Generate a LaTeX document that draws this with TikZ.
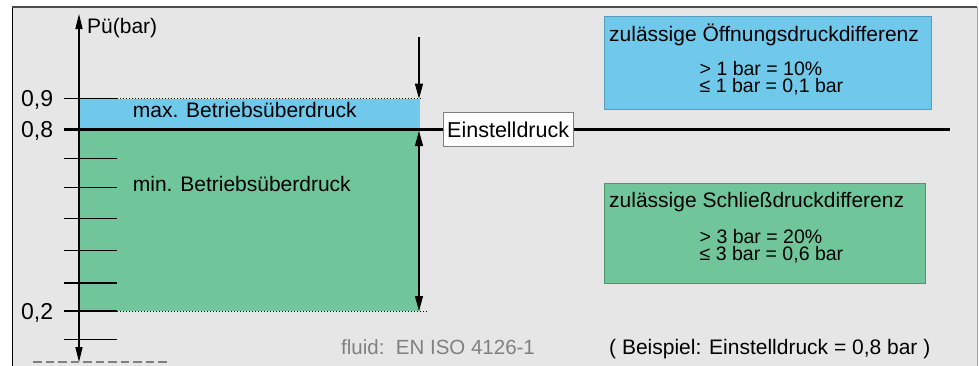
\documentclass[tikz,border=0pt]{standalone}
\usepackage{fontspec}
\setmainfont{Liberation Sans}
\usetikzlibrary{arrows.meta}
\definecolor{bg}{HTML}{E6E6E6}
\definecolor{blueband}{HTML}{70C8EA}
\definecolor{greenband}{HTML}{70C69A}
\definecolor{blueedge}{HTML}{5A9CBE}
\definecolor{greenedge}{HTML}{4F9670}
\definecolor{fluidgray}{HTML}{808080}
\tikzset{
  tick/.style={line width=1.5pt},
  dotline/.style={line width=1pt, dotted},
  lbl/.style={font=\fontsize{21}{24}\selectfont, inner sep=0pt, anchor=base west},
  sublbl/.style={font=\fontsize{19.5}{17.5}\selectfont, inner sep=0pt, anchor=base west},
  axlbl/.style={font=\fontsize{23}{25}\selectfont, inner sep=0pt, anchor=base east},
  infobox/.style={draw=#1, line width=0.9pt, anchor=north west, inner sep=0pt},
  ahead/.tip={Triangle[length=15pt,width=8pt]},
  axhead/.tip={Triangle[length=15pt,width=7pt]},
}
\begin{document}
\begin{tikzpicture}[x=1pt,y=-1pt]
\useasboundingbox (0,0) rectangle (979,365);
\fill[white] (0,0) rectangle (979,365);
\fill[bg] (12,7) rectangle (977,370);
\draw[black, line width=0.8pt] (12,370) -- (12,7);
\draw[gray!70, line width=0.8pt] (977,7) -- (977,370);
\draw[black!70, line width=2pt] (11.6,7) -- (977.4,7);
% bands
\fill[blueband] (79,98.7) rectangle (420,129);
\fill[greenband] (79,129) rectangle (420,311);
% info boxes
\node[infobox=blueedge, fill=blueband, minimum width=327pt, minimum height=93pt] (obox) at (604,16) {};
\node[infobox=greenedge, fill=greenband, minimum width=321pt, minimum height=100pt] (sbox) at (604,182.7) {};
\node[lbl] (otitle) at (609,41) {zulässige Öffnungsdruckdifferenz};
\node[sublbl] (otext1) at (699.5,75) {> 1 bar = 10\%};
\node[sublbl] (otext2) at (699.5,92.7) {≤ 1 bar = 0,1 bar};
\node[lbl] (stitle) at (609,207.3) {zulässige Schließdruckdifferenz};
\node[sublbl] (stext1) at (699.5,243) {> 3 bar = 20\%};
\node[sublbl] (stext2) at (699.5,260.7) {≤ 3 bar = 0,6 bar};
% dotted lines
\coordinate (d9a) at (117,98.7);
\coordinate (d9b) at (423,98.7);
\coordinate (d2a) at (117,311);
\coordinate (d2b) at (427,311);
\draw[dotline] (d9a) -- (d9b);
\draw[dotline] (d2a) -- (d2b);
% ticks
\foreach \v/\y in {9/98.7,7/158.5,6/187.5,5/218.5,4/250.5,3/283,2/311,1/339.5}{
  \coordinate (ta\v) at (64,\y);
  \coordinate (tb\v) at (117,\y);
  \draw[tick] (ta\v) -- (tb\v);
}
% set pressure line
\coordinate (s1) at (64,129);
\coordinate (s2) at (950,129);
\draw[line width=3pt] (s1) -- (s2);
\node[draw=gray, fill=white, line width=0.8pt, minimum width=130pt, minimum height=34pt, inner sep=0pt] (einst) at (508,129) {};
\node[font=\fontsize{21.5}{24}\selectfont, inner sep=0pt, anchor=base west] (einsttxt) at (447,137.3) {Einstelldruck};
% axis
\coordinate (axtop) at (79,14);
\coordinate (axbot) at (79,362);
\coordinate (axmid) at (79,200);
\draw[line width=1.3pt, -axhead] (axmid) -- (axtop);
\draw[line width=1.3pt, -axhead] (axmid) -- (axbot);
\node[lbl] (pu) at (87,33.3) {Pü(bar)};
% axis labels
\node[axlbl] (l9) at (53.3,106.7) {0,9};
\node[axlbl] (l8) at (53.3,137.3) {0,8};
\node[axlbl] (l2) at (53.3,319.3) {0,2};
% band labels
\node[lbl] (maxb) at (132.7,117.3) {max. Betriebsüberdruck};
\node[lbl] (minb) at (132.7,191.7) {min. Betriebsüberdruck};
% arrows
\coordinate (at) at (419,37);
\coordinate (a9) at (419,98.7);
\coordinate (a8) at (419,131);
\coordinate (a2) at (419,311);
\draw[line width=1.2pt, -ahead] (at) -- (a9);
\draw[line width=1.2pt, ahead-ahead] (a8) -- (a2);
% footer texts
\node[lbl, text=fluidgray, font=\fontsize{20.5}{24}\selectfont] (fluid) at (341,354.3) {fluid:\ \ EN ISO 4126-1};
\node[lbl] (beisp) at (609,354.3) {( Beispiel: Einstelldruck = 0,8 bar )};
\coordinate (g1) at (33,362);
\coordinate (g2) at (170,362);
\draw[fluidgray, line width=1.6pt, dash pattern=on 8.5pt off 4pt] (g1) -- (g2);
\end{tikzpicture}
\end{document}
